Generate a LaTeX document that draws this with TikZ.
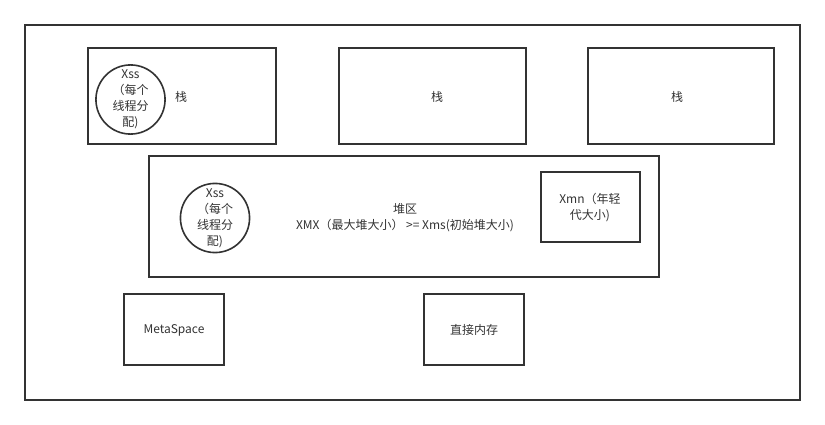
\documentclass[tikz,border=0pt]{standalone}
\usepackage{fontspec}
\setmainfont{Noto Sans CJK SC}
\begin{document}
\begin{tikzpicture}[x=1pt,y=-1pt,
  box/.style={draw=black!80,line width=2pt,fill=none},
  circ/.style={draw=black!80,line width=1.6pt,circle,minimum size=68pt,inner sep=0pt,align=center,font=\fontsize{12}{16}\selectfont,text=black!80},
  lbl/.style={font=\fontsize{12}{16}\selectfont,text=black!80,align=center,inner sep=0pt}]
\useasboundingbox (0,0) rectangle (825,425);
\fill[white] (0,0) rectangle (825,425);
\draw[box] (25,25) rectangle (800,400);
% stacks
\draw[box] (88,48) rectangle (276,144);
\node[circ] (c1) at (130.5,99.5) {Xss\\（每个\\线程分\\配)};
\node[lbl] (s1) at (181,97) {栈};
\draw[box] (339,48) rectangle (526,144);
\node[lbl] (s2) at (437,97) {栈};
\draw[box] (588,48) rectangle (774,144);
\node[lbl] (s3) at (677,97) {栈};
% heap
\draw[box] (149,156) rectangle (659,277);
\node[circ] (c2) at (215,218) {Xss\\（每个\\线程分\\配)};
\node[lbl] (h) at (405,218) {堆区\\XMX（最大堆大小） >= Xms(初始堆大小)};
\draw[box] (541,172) rectangle (640,242);
\node[lbl] (xmn) at (590,208) {Xmn（年轻\\代大小)};
% bottom
\draw[box] (124,294) rectangle (224,365);
\node[lbl] (m) at (174,330) {MetaSpace};
\draw[box] (424,294) rectangle (524,365);
\node[lbl] (d) at (474,330) {直接内存};
\end{tikzpicture}
\end{document}
